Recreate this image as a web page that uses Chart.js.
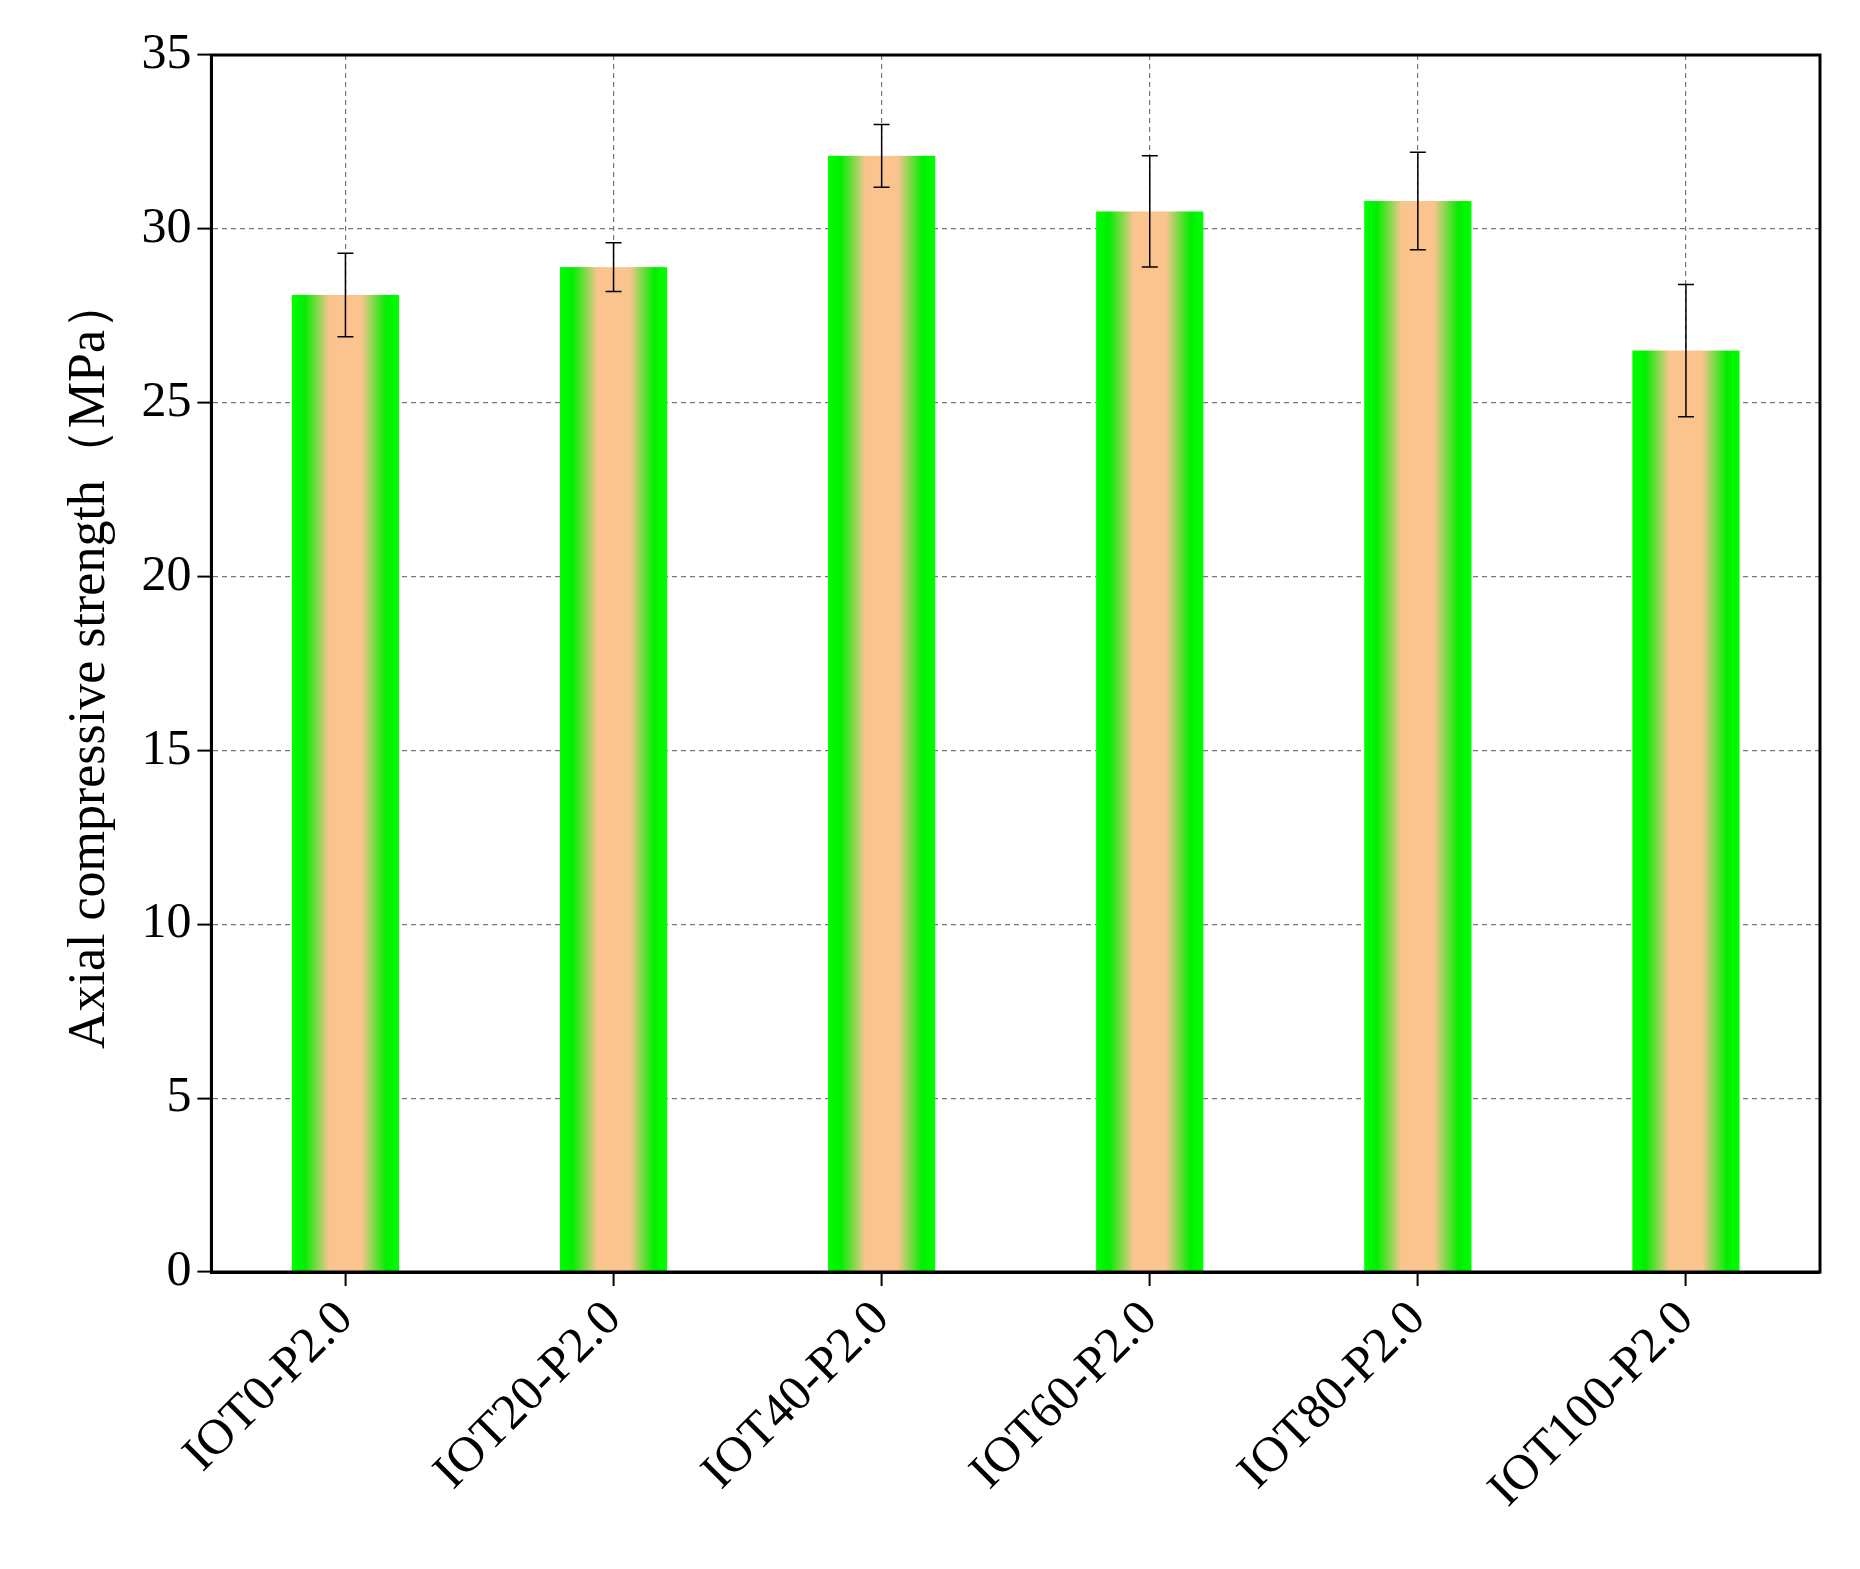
<!DOCTYPE html>
<html>
<head>
<meta charset="utf-8">
<script src="https://cdn.jsdelivr.net/npm/chart.js@4"></script>
<style>
  body { margin: 0; background: #fff; }
  #wrap { width: 1860px; height: 1569px; }
</style>
</head>
<body>
<div id="wrap"><canvas id="c"></canvas></div>
<script>
const categories = ["IOT0-P2.0", "IOT20-P2.0", "IOT40-P2.0", "IOT60-P2.0", "IOT80-P2.0", "IOT100-P2.0"];
const strength = [28.1, 28.9, 32.1, 30.5, 30.8, 26.5];
const errors = [1.2, 0.7, 0.9, 1.6, 1.4, 1.9];

const font = "'Liberation Serif', 'Times New Roman', Times, serif";

// gradient bars (green edges, peach middle) + error bars + frame
const barDecor = {
  id: "barDecor",
  afterDatasetsDraw(chart) {
    const ctx = chart.ctx;
    const y = chart.scales.y;
    ctx.save();
    chart.getDatasetMeta(0).data.forEach(bar => {
      const left = bar.x - bar.width / 2;
      const g = ctx.createLinearGradient(left, 0, left + bar.width, 0);
      g.addColorStop(0, "#00ff00");
      g.addColorStop(0.12, "#00ee00");
      g.addColorStop(0.35, "#fbc48f");
      g.addColorStop(0.65, "#fbc48f");
      g.addColorStop(0.88, "#00ee00");
      g.addColorStop(1, "#00ff00");
      ctx.fillStyle = g;
      ctx.fillRect(left, bar.y, bar.width, bar.base - bar.y);
    });
    ctx.strokeStyle = "#000";
    ctx.lineWidth = 1.5;
    chart.getDatasetMeta(0).data.forEach((bar, i) => {
      const top = y.getPixelForValue(strength[i] + errors[i]);
      const bot = y.getPixelForValue(strength[i] - errors[i]);
      ctx.beginPath();
      ctx.moveTo(bar.x, top); ctx.lineTo(bar.x, bot);
      ctx.moveTo(bar.x - 8, top); ctx.lineTo(bar.x + 8, top);
      ctx.moveTo(bar.x - 8, bot); ctx.lineTo(bar.x + 8, bot);
      ctx.stroke();
    });
    const a = chart.chartArea;
    ctx.lineWidth = 3;
    ctx.strokeRect(a.left, a.top, a.right - a.left, a.bottom - a.top);
    ctx.restore();
  }
};

new Chart(document.getElementById("c"), {
  type: "bar",
  data: {
    labels: categories,
    datasets: [{ data: strength, backgroundColor: "rgba(0,0,0,0)", barPercentage: 0.8, categoryPercentage: 0.5 }]
  },
  options: {
    responsive: true,
    maintainAspectRatio: false,
    animation: false,
    layout: { padding: { top: 55, right: 40, left: 45, bottom: 45 } },
    plugins: { legend: { display: false }, tooltip: { enabled: false } },
    scales: {
      x: {
        offset: true,
        grid: { offset: false, color: "#777", lineWidth: 1.2, tickColor: "#000", tickLength: 14, tickWidth: 2 },
        border: { dash: [5, 4], color: "#000", width: 3 },
        ticks: { color: "#000", font: { family: font, size: 50 }, maxRotation: 45, minRotation: 45, padding: 4 }
      },
      y: {
        min: 0, max: 35,
        grid: { color: "#777", lineWidth: 1.2, tickColor: "#000", tickLength: 14, tickWidth: 2 },
        border: { dash: [5, 4], color: "#000", width: 3 },
        ticks: { stepSize: 5, color: "#000", font: { family: font, size: 50 }, padding: 6 },
        title: { display: true, text: "Axial compressive strength（MPa）", color: "#000", font: { family: font, size: 52 }, padding: 14 }
      }
    }
  },
  plugins: [barDecor]
});
</script>
</body>
</html>
